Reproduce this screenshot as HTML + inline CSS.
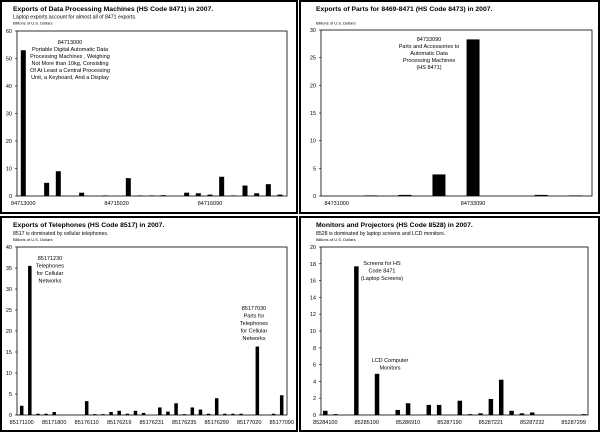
<!DOCTYPE html>
<html><head><meta charset="utf-8"><style>
html,body{margin:0;padding:0;background:#fff}
svg{display:block;font-family:"Liberation Sans",sans-serif}
</style></head><body>
<svg id="c" width="600" height="432" viewBox="0 0 600 432">
<rect x="0" y="0" width="600" height="432" fill="#fff"/>
<rect x="1" y="1" width="296" height="212" fill="none" stroke="#000" stroke-width="2"/>
<rect x="300" y="1" width="299" height="212" fill="none" stroke="#000" stroke-width="2"/>
<rect x="1" y="217" width="296" height="214" fill="none" stroke="#000" stroke-width="2"/>
<rect x="300" y="217" width="299" height="214" fill="none" stroke="#000" stroke-width="2"/>

<text x="13" y="11" font-size="6.8" font-weight="bold">Exports of Data Processing Machines (HS Code 8471) in 2007.</text>
<text x="13" y="18.5" font-size="5.2">Laptop exports account for almost all of 8471 exports.</text>
<text x="13" y="24.5" font-size="4">Billions of U.S. Dollars</text>

<text x="316" y="11" font-size="6.8" font-weight="bold">Exports of Parts for 8469-8471 (HS Code 8473) in 2007.</text>
<text x="316" y="24.5" font-size="4">Billions of U.S. Dollars</text>

<text x="13" y="227" font-size="6.8" font-weight="bold">Exports of Telephones (HS Code 8517) in 2007.</text>
<text x="13" y="235" font-size="5.2">8517 is dominated by cellular telephones.</text>
<text x="13" y="241" font-size="4">Billions of U.S. Dollars</text>

<text x="316" y="227" font-size="6.8" font-weight="bold">Monitors and Projectors (HS Code 8528) in 2007.</text>
<text x="316" y="235" font-size="5.2">8528 is dominated by laptop screens and LCD monitors.</text>
<text x="316" y="241" font-size="4">Billions of U.S. Dollars</text>

<g font-size="5.5" text-anchor="middle">
<text x="70" y="44"><tspan x="70">84713000</tspan><tspan x="70" dy="7">Portable Digital Automatic Data</tspan><tspan x="70" dy="7">Processing Machines , Weighing</tspan><tspan x="70" dy="7">Not More than 10kg, Consisting</tspan><tspan x="70" dy="7">Of At Least a Central Processing</tspan><tspan x="70" dy="7">Unit, a Keyboard, And a Display</tspan></text>
<text x="429" y="41"><tspan x="429">84733090</tspan><tspan x="429" dy="7">Parts and Accessories to</tspan><tspan x="429" dy="7">Automatic Data</tspan><tspan x="429" dy="7">Processing Machines</tspan><tspan x="429" dy="7">(HS 8471)</tspan></text>
<text x="50" y="260"><tspan x="50">85171230</tspan><tspan x="50" dy="7.5">Telephones</tspan><tspan x="50" dy="7.5">for Cellular</tspan><tspan x="50" dy="7.5">Networks</tspan></text>
<text x="254" y="310"><tspan x="254">85177030</tspan><tspan x="254" dy="7.5">Parts for</tspan><tspan x="254" dy="7.5">Telephones</tspan><tspan x="254" dy="7.5">for Cellular</tspan><tspan x="254" dy="7.5">Networks</tspan></text>
<text x="382" y="265"><tspan x="382">Screens for HS</tspan><tspan x="382" dy="7.5">Code 8471</tspan><tspan x="382" dy="7.5">(Laptop Screens)</tspan></text>
<text x="390" y="362"><tspan x="390">LCD Computer</tspan><tspan x="390" dy="7.5">Monitors</tspan></text>
</g>
</svg>
<script>
// Panel 8471
const cats8471 = ["84713000","","","","","","","","84715020","","","","","","","","84716090","","","","","",""];
const vals8471 = [53,0,4.8,9,0,1.2,0,0.2,0,6.5,0.2,0.2,0.3,0,1.2,1,0.5,7,0.2,3.8,1,4.3,0.5];
const ticks8471 = [0,10,20,30,40,50,60];
// Panel 8473
const cats8473 = ["84731000","","","","84733090","","",""];
const vals8473 = [0,0.1,0.2,3.9,28.3,0,0.2,0.1];
const ticks8473 = [0,5,10,15,20,25,30];
// Panel 8517
const cats8517 = ["85171100","","","","85171800","","","","85176110","","","","85176219","","","","85176231","","","","85176235","","","","85176299","","","","85177020","","","","85177090"];
const vals8517 = [2.2,35.5,0.3,0.3,0.7,0,0,0,3.3,0.2,0.2,0.7,1.0,0.3,1.0,0.5,0,1.8,0.8,2.8,0.2,1.8,1.3,0.3,4.0,0.3,0.3,0.3,0,16.3,0,0.3,4.7];
const ticks8517 = [0,5,10,15,20,25,30,35,40];
// Panel 8528
const cats8528 = ["85284100","","","","85285190","","","","85286910","","","","85287190","","","","85287221","","","","85287232","","","","85287299",""];
const vals8528 = [0.5,0.1,0,17.7,0,4.9,0,0.6,1.4,0,1.2,1.2,0,1.7,0.1,0.2,1.9,4.2,0.5,0.2,0.3,0,0,0,0,0.1];
const ticks8528 = [0,2,4,6,8,10,12,14,16,18,20];

const svg = document.getElementById('c');
const NS = 'http://www.w3.org/2000/svg';
function mk(tag, attrs){const e=document.createElementNS(NS,tag);for(const k in attrs)e.setAttribute(k,attrs[k]);svg.appendChild(e);return e;}

function panel(id, cats, vals, ticks, box, firstX, lastX, barW){
  const [x0,y0,x1,y1] = box;
  const maxV = ticks[ticks.length-1];
  const yS = v => y1 - (v/maxV)*(y1-y0);
  const n = cats.length;
  const xS = i => firstX + i*(lastX-firstX)/(n-1);
  const r = mk('rect',{x:x0,y:y0,width:x1-x0,height:y1-y0,fill:'none',stroke:'#000','stroke-width':0.8});
  
  
  ticks.forEach(t=>{
    const tl = mk('line',{x1:x0-2,x2:x0,y1:yS(t),y2:yS(t),stroke:'#000','stroke-width':0.6});
    
    
    const tx = mk('text',{x:x0-5,y:yS(t)+2,'font-size':5.5,'text-anchor':'end'});
    tx.textContent = t;
    
    
  });
  vals.forEach((v,i)=>{
    const b = mk('rect',{x:xS(i)-barW/2,y:yS(v),width:barW,height:Math.max(0,y1-yS(v)),fill:'#000'});
    
    
  });
  cats.forEach((c,i)=>{
    if(!c) return;
    const t = mk('text',{x:xS(i),y:y1+9,'font-size':5.5,'text-anchor':'middle'});
    t.textContent = c;
    
    
  });
}
panel('8471', cats8471, vals8471, ticks8471, [17,31,287,196], 23.3, 280, 5);
panel('8473', cats8473, vals8473, ticks8473, [321,30,592,196], 336.7, 575.3, 13);
panel('8517', cats8517, vals8517, ticks8517, [17,247,287,415], 21.7, 281.7, 3.5);
panel('8528', cats8528, vals8528, ticks8528, [321,247,588,415], 325.3, 584, 4.5);
</script>
</body></html>
